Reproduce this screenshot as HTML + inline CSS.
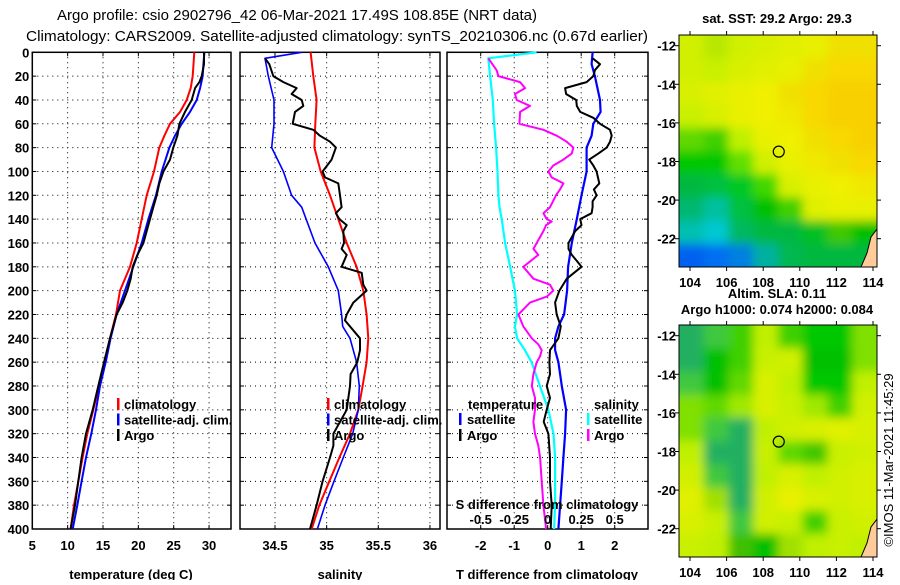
<!DOCTYPE html>
<html><head><meta charset="utf-8"><style>
body{margin:0;background:#fff;}
svg text{font-family:"Liberation Sans",sans-serif;}
.b{font-weight:bold;font-size:13px;}
</style></head><body>
<svg id="c" width="900" height="580" xmlns="http://www.w3.org/2000/svg">
<defs>
<filter id="blur" x="-5%" y="-5%" width="110%" height="110%"><feGaussianBlur stdDeviation="5"/></filter>
<clipPath id="clipTop"><rect x="679" y="35" width="198" height="232"/></clipPath>
<clipPath id="clipBot"><rect x="679" y="325" width="198" height="232"/></clipPath>
</defs>
<text x="297" y="20" font-size="15" text-anchor="middle" textLength="480" lengthAdjust="spacingAndGlyphs">Argo profile: csio 2902796_42 06-Mar-2021 17.49S 108.85E (NRT data)</text>
<text x="337" y="41" font-size="15" text-anchor="middle" textLength="622" lengthAdjust="spacingAndGlyphs">Climatology: CARS2009. Satellite-adjusted climatology: synTS_20210306.nc (0.67d earlier)</text>
<g id="plots"></g>
</svg>
<script>
// depth-grid data
const depthTicks=[0,20,40,60,80,100,120,140,160,180,200,220,240,260,280,300,320,340,360,380,400];
const tempTicks=[5,10,15,20,25,30];
const salTicks=[34.5,35,35.5,36];
const tdiffTicks=[-2,-1,0,1,2];
const sdiffTicks=[-0.5,-0.25,0,0.25,0.5];
// temperature panel
const tClimDepth=[0,20,30,40,50,60,70,80,100,120,140,160,180,200,220,240,260,280,300,320,340,360,380,400];
const tClimVal=[27.92,27.69,27.4,26.84,25.9,24.48,23.68,22.97,22.22,21.18,20.47,19.76,18.82,17.4,16.84,15.99,15.28,14.43,13.63,12.78,12.12,11.5,10.9,10.42];
const tSatDepth=[0,10,20,30,40,50,60,70,80,100,120,140,160,180,200,220,240,260,280,300,320,340,360,380,400];
const tSatVal=[29.34,29.2,29.1,28.73,28.25,27.31,26.13,25.19,24.39,23.3,22.5,21.42,20.47,19.29,18.11,16.93,16.08,15.38,14.58,14.01,13.35,12.59,11.98,11.37,10.71];
const tArgoDepth=[0,10,20,25,30,40,50,60,70,80,90,100,110,120,130,140,150,160,170,180,190,200,210,220,240,260,280,300,320,340,360,380,400];
const tArgoVal=[29.29,29.29,28.96,28.63,28.02,27.55,26.6,25.8,25.52,24.95,24.48,23.54,22.97,22.59,22.12,21.65,21.18,20.71,19.86,19.2,18.92,18.44,17.78,16.93,15.99,15.14,14.34,13.54,12.59,11.98,11.5,11.04,10.42];
// salinity panel
const sClimDepth=[0,20,40,60,80,100,120,140,160,180,200,220,240,260,280,300,320,340,360,380,400];
const sClimVal=[34.845,34.871,34.903,34.89,34.881,34.942,35.032,35.113,35.194,35.29,35.355,35.387,35.403,35.387,35.348,35.306,35.226,35.123,35.026,34.929,34.855];
const sSatDepth=[0,5,20,40,60,80,100,120,130,160,180,200,220,230,240,260,280,300,320,340,360,380,400];
const sSatVal=[34.758,34.403,34.435,34.49,34.49,34.468,34.581,34.661,34.758,34.887,35.016,35.113,35.145,35.155,35.226,35.29,35.316,35.306,35.252,35.161,35.071,34.984,34.91];
const sArgoDepth=[5,10,20,25,30,35,40,45,50,60,65,70,75,80,90,100,105,110,120,130,135,140,145,150,160,165,170,180,185,195,200,210,220,225,240,250,260,270,280,300,320,330,340,360,380,400];
const sArgoVal=[34.403,34.445,34.484,34.581,34.71,34.661,34.758,34.774,34.694,34.671,34.871,34.935,35.032,35.09,35.048,34.961,34.984,35.113,35.129,35.145,35.09,35.123,35.194,35.161,35.168,35.145,35.194,35.145,35.339,35.355,35.387,35.258,35.194,35.177,35.323,35.323,35.297,35.232,35.226,35.194,35.065,35.065,35.032,34.961,34.903,34.839];
// difference panel
const dTSatDepth=[0,10,20,40,50,60,70,80,100,120,140,160,180,200,220,230,240,250,260,280,300,320,340,360,380,400];
const dTSatVal=[1.34,1.31,1.41,1.56,1.58,1.36,1.31,1.16,1.16,1.01,0.87,0.72,0.61,0.58,0.49,0.32,0.22,0.22,0.32,0.42,0.55,0.52,0.47,0.42,0.37,0.32];
const dTArgoDepth=[5,10,15,20,25,30,35,40,45,50,55,60,65,70,75,80,85,90,95,100,110,115,120,125,130,135,140,145,150,160,165,170,175,180,190,200,210,220,230,240,250,260,270,280,290,300,310,320,340,360,380,400];
const dTArgoVal=[1.34,1.56,1.41,1.36,1.16,0.52,0.55,0.85,0.87,0.97,1.36,1.56,1.86,1.91,1.86,1.76,1.51,1.24,1.36,1.46,1.54,1.38,1.46,1.34,1.34,1.31,0.97,1.01,0.82,0.62,0.62,0.72,0.87,1.01,0.57,0.35,0.22,0.27,0.39,0.32,0.07,0.05,0.07,-0.03,0.07,-0.03,-0.12,0.02,0.07,0.07,0.12,0.09];
const dSSatDepth=[0,5,20,40,60,80,100,120,130,140,160,180,200,220,230,240,250,260,280,300,320,340,360,380,400];
const dSSatVal=[-0.083,-0.443,-0.43,-0.41,-0.4,-0.385,-0.375,-0.368,-0.36,-0.343,-0.318,-0.28,-0.245,-0.228,-0.245,-0.228,-0.17,-0.12,-0.058,0.005,0.043,0.055,0.055,0.055,0.048];
const dSArgoDepth=[5,15,20,25,30,35,40,45,50,60,65,70,75,80,85,90,95,100,105,110,115,120,130,135,140,142,145,150,160,165,170,180,190,195,200,205,210,220,230,240,245,250,255,260,270,280,290,300,310,320,330,340,360,380,400];
const dSArgoVal=[-0.443,-0.381,-0.368,-0.206,-0.169,-0.244,-0.231,-0.132,-0.206,-0.211,-0.032,0.067,0.142,0.192,0.179,0.117,0.042,0.005,0.03,0.117,0.092,0.062,0.017,-0.032,-0.007,0.03,-0.012,-0.032,-0.082,-0.107,-0.07,-0.182,-0.107,0.017,0.042,-0.007,-0.132,-0.219,-0.182,-0.119,-0.07,-0.045,-0.057,-0.082,-0.107,-0.119,-0.095,-0.095,-0.107,-0.095,-0.07,-0.057,-0.045,-0.032,-0.012];
// map grids (colour per cell, 8 cols x 10 rows, north to south)
const sstGrid=[
["d0f000","b8e800","d0f000","d8f000","e0f000","e8f000","f0e000","f0e000"],
["d0f000","c8f000","d8f000","e0f000","e8f000","f0e000","f8d800","f8d800"],
["d8f000","e0f000","e8f000","f0f000","f0e000","f8d800","f8d000","f8d000"],
["c8f000","d8f000","e8f000","f0f000","f0e800","f8d800","f8d000","f8d000"],
["60d800","40d000","c0f000","e8f000","f0f000","f0e000","f8d800","f8d000"],
["00c800","00c800","60e000","d0f000","e8f000","f0e800","f0e000","f8d800"],
["00b840","00c040","00c820","40d800","d8f000","e8f000","f0f000","f0e800"],
["00b870","00c0a0","00c040","00c000","40d000","e0f000","e8f000","e8f000"],
["00c0b0","00c8d0","00b860","00b840","00b840","00c020","40c800","00c000"],
["0060f0","0070f0","0080e0","00b0a0","00b850","00b840","00b840","00b840"]];
const slaGrid=[
["20b060","40c840","40d000","c0f000","40d000","00c800","00c800","80e000"],
["20b060","00c000","40d000","c8f000","d0f000","00c000","00c000","80e000"],
["40c840","00c000","60d800","d8f000","c0f000","00c800","00c800","c0f000"],
["80e000","60d800","a0e800","d8f000","c8f000","a0e800","40d000","d0f000"],
["80e000","40c840","20b060","c0f000","d0f000","d8f000","e0f000","d8f000"],
["c0f000","20b060","20b060","c8f000","60d800","40c800","c8f000","d0f000"],
["d0f000","40c840","20b060","c0f000","d8f000","c0f000","d0f000","d8f000"],
["e0f000","a0e000","20b060","d0f000","e8f000","d8f000","d0f000","d8f000"],
["d8f000","c8f000","40c840","d0f000","c8f000","40d000","c8f000","d0f000"],
["c8f000","c0f000","40c000","00c000","a0e000","c0f000","c8f000","c0f000"]];
const latTicks=[-12,-14,-16,-18,-20,-22];
const lonTicks=[104,106,108,110,112,114];
const argoLon=108.85, argoLat=-17.49;

const NS='http://www.w3.org/2000/svg';
const root=document.getElementById('plots');
function el(tag,attrs,parent){const e=document.createElementNS(NS,tag);for(const k in attrs)e.setAttribute(k,attrs[k]);(parent||root).appendChild(e);return e;}
const TOP=52.3,BOT=529;
const y=d=>TOP+d*(BOT-TOP)/400;
const xT=t=>32.3+(t-5)*7.07;
const xS=s=>275+(s-34.5)*103.3;
const xD=t=>547.7+t*33.5;
const xSD=s=>xD(s*4);

function panel(name,x0,x1,xf,ticks,fmt,withY){
  const g=el('g',{});
  
  
  depthTicks.forEach(d=>{
    if(d>0&&d<400){const l=el('line',{x1:x0,x2:x1,y1:y(d),y2:y(d),stroke:'#000','stroke-width':1,'stroke-dasharray':'1,4'},g);
    
    }
    el('line',{x1:x0,x2:x0+4,y1:y(d),y2:y(d),stroke:'#000'},g);
    el('line',{x1:x1-4,x2:x1,y1:y(d),y2:y(d),stroke:'#000'},g);
    if(withY){const t=el('text',{x:x0-3,y:y(d)+5,'text-anchor':'end',class:'b'},g);t.textContent=d;
      
      }
  });
  ticks.forEach(v=>{const px=xf(v);
    const l=el('line',{x1:px,x2:px,y1:TOP,y2:BOT,stroke:'#000','stroke-dasharray':'1,4'},g);
    
    
    el('line',{x1:px,x2:px,y1:BOT-4,y2:BOT,stroke:'#000'},g);
    el('line',{x1:px,x2:px,y1:TOP,y2:TOP+4,stroke:'#000'},g);
    const t=el('text',{x:px,y:550,'text-anchor':'middle',class:'b'},g);t.textContent=fmt(v);
    
    
  });
  const r=el('rect',{x:x0,y:TOP,width:x1-x0,height:BOT-TOP,fill:'none',stroke:'#000','stroke-width':1.5},g);
  
  
  return g;
}
function series(name,depths,vals,xf,color,w){
  const pts=depths.map((d,i)=>xf(vals[i]).toFixed(1)+','+y(d).toFixed(1)).join(' ');
  const p=el('polyline',{points:pts,fill:'none',stroke:color,'stroke-width':w,'stroke-linejoin':'round'});
  
  
}
function txt(name,x,yy,s,anchor,extra){const t=el('text',Object.assign({x:x,y:yy,'text-anchor':anchor||'start',class:'b'},extra||{}));t.textContent=s;
  
  return t;}
function mark(name,x,yy,color){const r=el('rect',{x:x,y:yy-6,width:2.5,height:12,fill:color});
  
  }

panel('temperature-panel',32.3,231,xT,tempTicks,v=>v,true);
panel('salinity-panel',240,440,xS,salTicks,v=>v,false);
panel('difference-panel',447,648,xD,tdiffTicks,v=>v,false);

series('temp-climatology-line',tClimDepth,tClimVal,xT,'#ff0000',2);
series('temp-satellite-line',tSatDepth,tSatVal,xT,'#0000ff',2);
series('temp-argo-line',tArgoDepth,tArgoVal,xT,'#000',2);
series('sal-climatology-line',sClimDepth,sClimVal,xS,'#ff0000',2);
series('sal-satellite-line',sSatDepth,sSatVal,xS,'#0000ff',1.6);
series('sal-argo-line',sArgoDepth,sArgoVal,xS,'#000',2);
series('sdiff-satellite-line',dSSatDepth,dSSatVal,xSD,'#00ffff',2.2);
series('sdiff-argo-line',dSArgoDepth,dSArgoVal,xSD,'#ff00ff',2);
series('tdiff-satellite-line',dTSatDepth,dTSatVal,xD,'#0000ff',2.2);
series('tdiff-argo-line',dTArgoDepth,dTArgoVal,xD,'#000',2);

// legends
[['climatology','#ff0000'],['satellite-adj. clim.','#0000ff'],['Argo','#000']].forEach((e,i)=>{
  const yy=404+i*15.5;
  mark('legend-temp-marker',117,yy,e[1]);txt('legend-temp-entry',124,yy+5,e[0]);
  mark('legend-sal-marker',327,yy,e[1]);txt('legend-sal-entry',334,yy+5,e[0]);
});
txt('legend-temperature-header',468,409,'temperature');
mark('legend-tsat-marker',459,419,'#0000ff');txt('legend-tsat-entry',467,424,'satellite');
mark('legend-targo-marker',459,435,'#000');txt('legend-targo-entry',467,440,'Argo');
txt('legend-salinity-header',594,409,'salinity');
mark('legend-ssat-marker',587,419,'#00ffff');txt('legend-ssat-entry',594,424,'satellite');
mark('legend-sargo-marker',587,435,'#ff00ff');txt('legend-sargo-entry',594,440,'Argo');
txt('s-diff-axis-title',547,509,'S difference from climatology','middle');
sdiffTicks.forEach(v=>txt('s-diff-tick-label',xSD(v),524,String(v),'middle'));
txt('temp-axis-title',131,579,'temperature  (deg C)','middle');
txt('sal-axis-title',340,579,'salinity','middle');
txt('tdiff-axis-title',547,579,'T difference from climatology','middle');

// maps
function map(name,top,grid,clip){
  const g=el('g',{});
  
  
  const X0=679,W=198,H=232;
  const lonX=l=>690+(l-104)*18.3;
  const latY=l=>top+10.7+(-12-l)*19.3;
  const cg=el('g',{'clip-path':'url(#'+clip+')'},g);
  el('rect',{x:X0,y:top,width:W,height:H,fill:'#'+grid[5][4]},cg);
  const bg=el('g',{filter:'url(#blur)'},cg);
  const cw=W/8,ch=H/10;
  grid.forEach((row,r)=>row.forEach((c,k)=>{
    const x=X0+k*cw-(k==0?12:0),yy=top+r*ch-(r==0?12:0);
    const w=cw+(k==0||k==7?12:0)+1,h=ch+(r==0||r==9?12:0)+1;
    el('rect',{x:x,y:yy,width:w,height:h,fill:'#'+c},bg);
  }));
  const land=el('path',{d:`M${X0+W} ${top+H-38} L${X0+W-6} ${top+H-30} L${X0+W-10} ${top+H-14} L${X0+W-16} ${top+H} L${X0+W} ${top+H} Z`,fill:'#ffcc99',stroke:'#000','stroke-width':1},cg);
  
  
  el('rect',{x:X0,y:top,width:W,height:H,fill:'none',stroke:'#000','stroke-width':1},g);
  const c=el('circle',{cx:lonX(argoLon),cy:latY(argoLat),r:5.5,fill:'none',stroke:'#000','stroke-width':1.2},g);
  
  
  latTicks.forEach(l=>{const yy=latY(l);
    el('line',{x1:X0+W,x2:X0+W+4,y1:yy,y2:yy,stroke:'#000'},g);
    el('line',{x1:X0-4,x2:X0,y1:yy,y2:yy,stroke:'#000'},g);
    const t=el('text',{x:X0-3,y:yy+5,'text-anchor':'end',class:'b'},g);t.textContent=l;
    
    });
  lonTicks.forEach(l=>{const xx=lonX(l);
    el('line',{x1:xx,x2:xx,y1:top-4,y2:top,stroke:'#000'},g);
    el('line',{x1:xx,x2:xx,y1:top+H,y2:top+H+4,stroke:'#000'},g);
    const t=el('text',{x:xx,y:top+H+20,'text-anchor':'middle',class:'b'},g);t.textContent=l;
    
    });
}
map('sst-map',35,sstGrid,'clipTop');
map('sla-map',325,slaGrid,'clipBot');
txt('sst-map-title',777,23,'sat. SST: 29.2 Argo: 29.3','middle');
txt('sla-map-title',777,298,'Altim. SLA: 0.11','middle');
txt('sla-map-subtitle',777,314,'Argo h1000: 0.074 h2000: 0.084','middle');
const cp=txt('copyright-stamp',0,0,'©IMOS 11-Mar-2021 11:45:29','middle',{transform:'translate(893,460) rotate(-90)'});
cp.setAttribute('class','');cp.setAttribute('font-size','13');
</script>
</body></html>
